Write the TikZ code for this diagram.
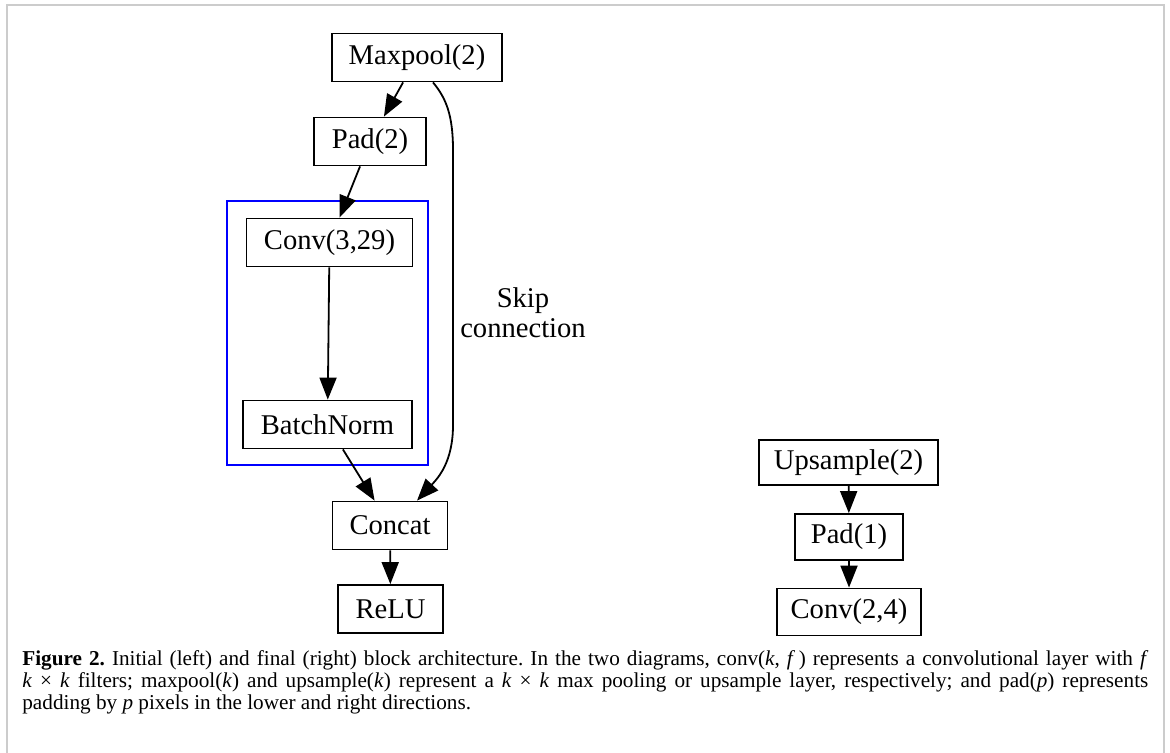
\documentclass[tikz,border=0pt]{standalone}
\usepackage{fontspec}
\setmainfont{Liberation Serif}
\usetikzlibrary{arrows.meta,calc}
\begin{document}
\begin{tikzpicture}[x=0.5pt,y=-0.5pt,
  blk/.style={draw,line width=0.9pt,inner sep=0pt,minimum height=24pt,font=\fontsize{14.3}{17}\selectfont},
  arr/.style={line width=0.9pt,-{Triangle[length=11pt,width=8.5pt]}},
  lbl/.style={align=center,inner sep=0pt,font=\fontsize{14.3}{15}\selectfont}]
\useasboundingbox (0,0) rectangle (1170,753);
\draw[black!20,line width=1pt] (6.5,760) -- (6.5,5.5) -- (1163.5,5.5) -- (1163.5,760);

% left diagram
\node[blk,minimum width=85pt] (maxpool) at (417,57.5) {Maxpool(2)};
\node[blk,minimum width=56pt] (pad2) at (370,141.5) {Pad(2)};
\draw[blue,line width=0.8pt] (227,201) rectangle (428,465);
\node[blk,minimum width=83pt] (conv1) at (329.5,242.5) {Conv(3,29)};
\node[blk,minimum width=84.5pt] (bn) at (327.5,424.5) {BatchNorm};
\node[blk,minimum width=57.5pt] (concat) at (390,525.5) {Concat};
\node[blk,minimum width=52.5pt] (relu) at (390.5,609) {ReLU};

\draw[arr] (maxpool) -- (pad2);
\draw[arr] (pad2) -- (conv1);
\draw[arr] (conv1) -- (bn);
\draw[arr] (bn) -- (concat);
\draw[arr] (concat) -- (relu);
\draw[arr] ($(maxpool.south)+(16,0)$) .. controls (446,98) and (453,115) .. (453,150)
  -- (453,425) .. controls (453,462) and (438,478) .. ($(concat.north)+(27,0)$);
\node[lbl] (skip) at (523,313) {Skip\\connection};

% right diagram
\node[blk,minimum width=89.5pt,minimum height=22.5pt] (ups) at (848.5,462.5) {Upsample(2)};
\node[blk,minimum width=54pt,minimum height=23pt] (pad1) at (849,537) {Pad(1)};
\node[blk,minimum width=72pt,minimum height=23.5pt] (conv2) at (849,612) {Conv(2,4)};
\draw[arr] (ups) -- (pad1);
\draw[arr] (pad1) -- (conv2);

% caption
\node[anchor=north west,inner sep=0pt,font=\fontsize{10.6}{11}\selectfont] (cap) at (22,650)
{\parbox{563pt}{\frenchspacing\textbf{Figure 2.} Initial (left) and final (right) block architecture. In the two diagrams, conv(\textit{k}, \textit{f}\,) represents a convolutional layer with \textit{f}\linebreak
\textit{k} × \textit{k} filters; maxpool(\textit{k}) and upsample(\textit{k}) represent a \textit{k} × \textit{k} max pooling or upsample layer, respectively; and pad(\textit{p}) represents\linebreak
padding by \textit{p} pixels in the lower and right directions.}};
\end{tikzpicture}
\end{document}
